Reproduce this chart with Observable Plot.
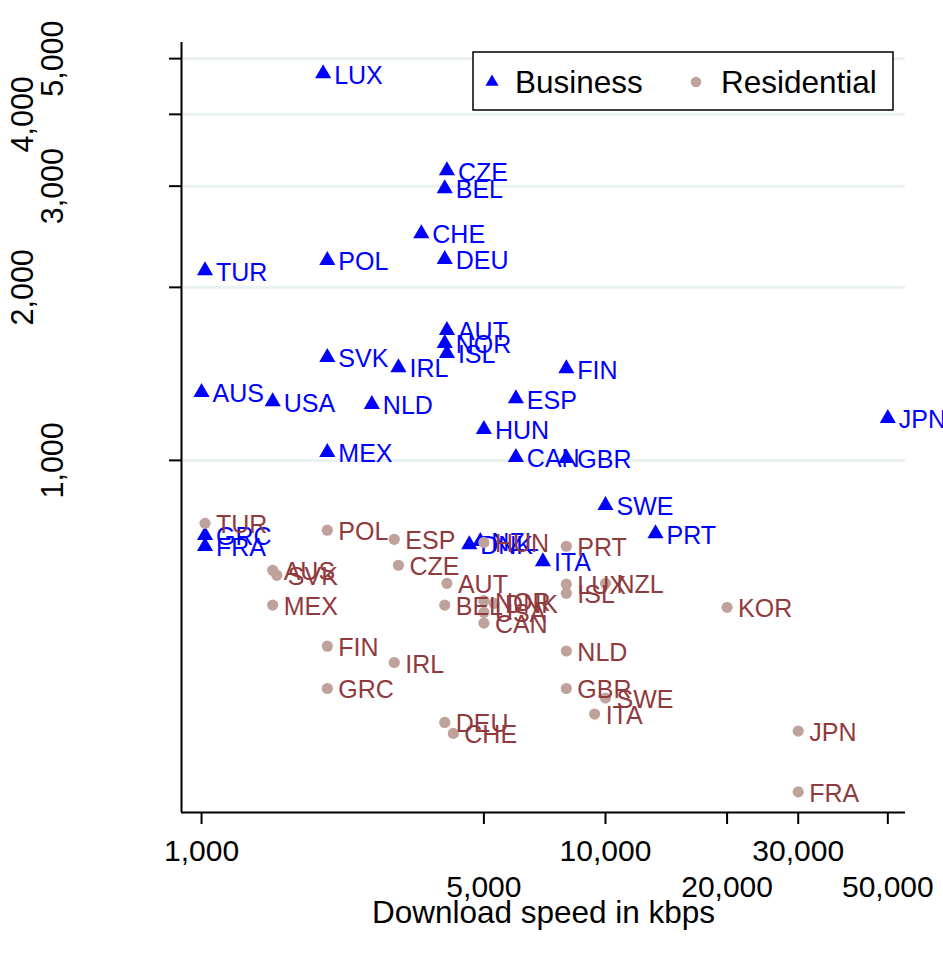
<!DOCTYPE html>
<html>
<head>
<meta charset="utf-8">
<script src="https://cdn.jsdelivr.net/npm/d3@7"></script>
<script src="https://cdn.jsdelivr.net/npm/@observablehq/plot@0.6"></script>
<style>
  html, body { margin: 0; padding: 0; background: #fff; }
  #chart { width: 943px; height: 961px; }
</style>
</head>
<body>
<div id="chart"></div>
<script>
// ---- Data ----
const bizCountries = ["LUX","CZE","BEL","CHE","POL","DEU","TUR","AUT","NOR","ISL","SVK","IRL","FIN","AUS","USA","ESP","NLD","HUN","JPN","MEX","CAN","GBR","SWE","PRT","GRC","FRA","DNK","NZL","ITA"];
const bizSpeed     = [2000,4050,4000,3500,2048,4000,1020,4050,4000,4050,2048,3072,8000,1000,1500,6000,2640,5000,50000,2048,6000,8000,10000,13300,1020,1020,4600,4900,7000];
const bizValue     = [4711,3194,2972,2482,2228,2237,2139,1683,1598,1535,1511,1451,1445,1313,1266,1281,1252,1132,1183,1033,1012,1008,835,746,741,709,714,723,667];

const resCountries = ["TUR","POL","ESP","HUN","PRT","AUS","SVK","CZE","AUT","LUX","ISL","NZL","MEX","BEL","NOR","DNK","USA","CAN","KOR","FIN","IRL","NLD","GRC","GBR","SWE","ITA","DEU","CHE","JPN","FRA"];
const resSpeed     = [1020,2048,3000,5000,8000,1500,1536,3072,4050,8000,8000,10000,1500,4000,5000,5300,5000,5000,20000,2048,3000,8000,2048,8000,10000,9400,4000,4200,30000,30000];
const resValue     = [777,756,729,720,709,644,631,657,611,609,587,611,560,560,570,564,544,521,555,475,445,466,401,401,386,362,350,335,338,265];

const xTicksRow1 = [1000, 10000, 30000];
const xTicksRow2 = [5000, 20000, 50000];
const yTicksRow1 = [1000, 3000, 5000];
const yTicksRow2 = [2000, 4000];
const xDomain = [892, 55300];
const yDomain = [244, 5334];

const xTitle = "Download speed in kbps";
const seriesNames = ["Business", "Residential"];

// ---- Tables ----
const business = bizCountries.map((c, i) => ({code: c, speed: bizSpeed[i], value: bizValue[i]}));
const residential = resCountries.map((c, i) => ({code: c, speed: resSpeed[i], value: resValue[i]}));
const xTicks = [...xTicksRow1, ...xTicksRow2];
const yTicks = [...yTicksRow1, ...yTicksRow2];
const fmt = d3.format(",");

const BLUE = "#0000ff";
const RES_MARK = "#bfa29b";
const RES_TEXT = "#903a3e";
const FONT = "'Liberation Sans', Arial, Helvetica, sans-serif";

const chart = Plot.plot({
  width: 943,
  height: 961,
  marginLeft: 181,
  marginRight: 38,
  marginTop: 42,
  marginBottom: 149,
  style: {fontFamily: FONT, background: "#fff", overflow: "visible"},
  x: {type: "log", domain: xDomain, axis: null},
  y: {type: "log", domain: yDomain, axis: null},
  marks: [
    Plot.gridY(yTicks, {stroke: "#eaf2f3", strokeOpacity: 1, strokeWidth: 3}),
    // axis lines
    Plot.ruleX([xDomain[0]], {stroke: "#000", strokeWidth: 2}),
    Plot.ruleY([yDomain[0]], {stroke: "#000", strokeWidth: 2}),
    // ticks
    Plot.axisY(yTicks, {anchor: "left", label: null, tickSize: 12, tickFormat: () => "", stroke: "#000", strokeWidth: 2}),
    Plot.axisX(xTicks, {anchor: "bottom", label: null, tickSize: 12, tickFormat: () => "", stroke: "#000", strokeWidth: 2}),
    // y tick labels (alternating, rotated)
    Plot.text(yTicksRow1, {y: d => d, text: d => fmt(d), frameAnchor: "left", textAnchor: "middle", rotate: -90, dx: -128, fontSize: 30.5, fill: "#000"}),
    Plot.text(yTicksRow2, {y: d => d, text: d => fmt(d), frameAnchor: "left", textAnchor: "middle", rotate: -90, dx: -158, fontSize: 30.5, fill: "#000"}),
    // x tick labels (alternating rows)
    Plot.text(xTicksRow1, {x: d => d, text: d => fmt(d), frameAnchor: "bottom", lineAnchor: "bottom", dy: 48, fontSize: 30, fill: "#000"}),
    Plot.text(xTicksRow2, {x: d => d, text: d => fmt(d), frameAnchor: "bottom", lineAnchor: "bottom", dy: 84, fontSize: 30, fill: "#000"}),
    Plot.text([xTitle], {text: d => d, frameAnchor: "bottom", lineAnchor: "bottom", dy: 110, fontSize: 31.5, fill: "#000"}),
    // markers
    Plot.dot(business, {x: "speed", y: "value", symbol: "triangle", r: 6, fill: BLUE, stroke: null}),
    Plot.text(business, {x: "speed", y: "value", text: "code", dx: 11, dy: 2, textAnchor: "start", fontSize: 25, fill: BLUE}),
    Plot.dot(residential, {x: "speed", y: "value", symbol: "circle", r: 5.6, fill: RES_MARK, stroke: null}),
    Plot.text(residential, {x: "speed", y: "value", text: "code", dx: 11, dy: 2, textAnchor: "start", fontSize: 25, fill: RES_TEXT})
  ]
});

// ---- Legend (inside the plot area, top right) ----
const svg = d3.select(chart);
const lg = svg.append("g").attr("font-family", FONT).attr("font-size", 31.5).attr("text-anchor", "start");
lg.append("rect").attr("x", 473).attr("y", 52).attr("width", 420).attr("height", 58)
  .attr("fill", "#fff").attr("stroke", "#000").attr("stroke-width", 1.5);
lg.append("path").attr("d", d3.symbol(d3.symbolTriangle, 75)()).attr("transform", "translate(492,82)").attr("fill", BLUE);
lg.append("text").attr("x", 515).attr("y", 93).attr("fill", "#000").text(seriesNames[0]);
lg.append("circle").attr("cx", 696).attr("cy", 82).attr("r", 5.2).attr("fill", RES_MARK);
lg.append("text").attr("x", 721).attr("y", 93).attr("fill", "#000").text(seriesNames[1]);

document.getElementById("chart").appendChild(chart);
</script>
</body>
</html>
